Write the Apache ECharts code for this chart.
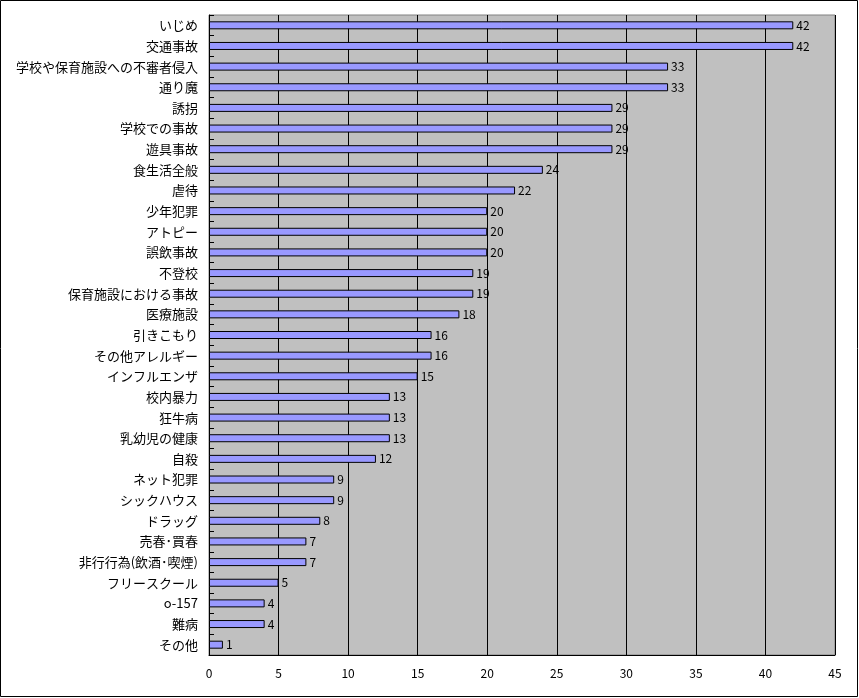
<!DOCTYPE html>
<html><head><meta charset="utf-8">
<script src="https://cdn.jsdelivr.net/npm/echarts@6/dist/echarts.min.js"></script>
<style>html,body{margin:0;padding:0;background:#fff}#c{width:859px;height:698px}</style>
</head><body><div id="c"></div>
<script>
const categories = ["いじめ","交通事故","学校や保育施設への不審者侵入","通り魔","誘拐","学校での事故","遊具事故","食生活全般","虐待","少年犯罪","アトピー","誤飲事故","不登校","保育施設における事故","医療施設","引きこもり","その他アレルギー","インフルエンザ","校内暴力","狂牛病","乳幼児の健康","自殺","ネット犯罪","シックハウス","ドラッグ","売春･買春","非行行為(飲酒･喫煙)","フリースクール","o-157","難病","その他"];
const values = [42,42,33,33,29,29,29,24,22,20,20,20,19,19,18,16,16,15,13,13,13,12,9,9,8,7,7,5,4,4,1];
const xTicks = {min:0, max:45, interval:5};
const font = '"Noto Sans CJK JP", sans-serif';
const chart = echarts.init(document.getElementById('c'));
chart.setOption({
  animation:false,
  backgroundColor:'#fff',
  graphic:[{type:'rect',shape:{x:0.5,y:0.5,width:857,height:696},style:{fill:'none',stroke:'#000',lineWidth:1},z:100}],
  grid:{left:209,right:24,top:15,bottom:43,show:true,backgroundColor:'#C0C0C0',borderColor:'#808080',borderWidth:1},
  xAxis:{type:'value',min:xTicks.min,max:xTicks.max,interval:xTicks.interval,
    axisLine:{show:true,lineStyle:{color:'#000'}},axisTick:{show:false},
    axisLabel:{color:'#000',fontSize:12,fontFamily:font,margin:12},
    splitLine:{show:true,lineStyle:{color:'#000',width:1}}},
  yAxis:{type:'category',data:categories,inverse:true,
    axisLine:{show:true,lineStyle:{color:'#000'}},
    axisTick:{show:true,inside:true,length:5,lineStyle:{color:'#000'}},
    axisLabel:{color:'#000',fontSize:13,fontFamily:font,margin:11}},
  series:[{type:'bar',data:values,barWidth:8,
    itemStyle:{color:'#9999FF',borderColor:'#000',borderWidth:1},
    label:{show:true,position:'right',distance:3,color:'#000',fontSize:12,fontFamily:font}}]
});
</script></body></html>
